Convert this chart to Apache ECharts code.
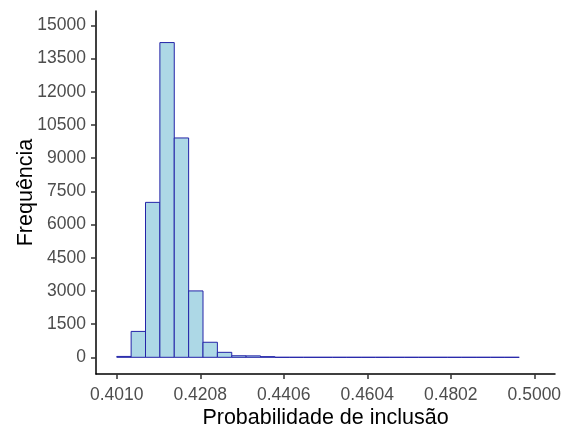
<!DOCTYPE html>
<html>
<head>
<meta charset="utf-8">
<script src="https://cdn.jsdelivr.net/npm/echarts@6/dist/echarts.min.js"></script>
<style>
  html, body { margin: 0; padding: 0; background: #fff; }
  #chart { width: 564px; height: 430px; }
</style>
</head>
<body>
<div id="chart"></div>
<script>
// histograma: largura das classes e contagens
var binStart = 0.4010;
var binWidth = 0.003408;
var counts = [40, 1170, 7000, 14220, 9910, 3000, 680, 225, 70, 65, 30,
              0, 0, 0, 0, 0, 0, 0, 0, 0, 0, 0, 0, 0, 0, 0, 0, 0];
var xTicks = [0.4010, 0.4208, 0.4406, 0.4604, 0.4802, 0.5000];
var yTicks = [0, 1500, 3000, 4500, 6000, 7500, 9000, 10500, 12000, 13500, 15000];

var binData = counts.map(function (c, i) {
    return [binStart + i * binWidth, binStart + (i + 1) * binWidth, c];
});

var labelColor = '#4D4D4D';
var fontFam = '"Liberation Sans", Arial, sans-serif';

var option = {
    animation: false,
    grid: {
        left: 96,
        right: 9,
        top: 11,
        bottom: 56,
        containLabel: false,
        outerBoundsMode: 'none'
    },
    xAxis: {
        type: 'value',
        min: 0.39608,
        max: 0.5049,
        name: 'Probabilidade de inclusão',
        nameLocation: 'middle',
        nameGap: 33,
        nameMoveOverlap: false,
        nameTextStyle: { color: '#000', fontSize: 21.5, fontFamily: fontFam },
        splitLine: { show: false },
        axisLine: { onZero: false, lineStyle: { color: '#000', width: 1.5 } },
        axisTick: {
            customValues: xTicks,
            length: 5,
            lineStyle: { color: '#333', width: 1.5 }
        },
        axisLabel: {
            customValues: xTicks,
            color: labelColor,
            fontSize: 17.5,
            fontFamily: fontFam,
            margin: 12,
            formatter: function (v) { return v.toFixed(4); }
        }
    },
    yAxis: {
        type: 'value',
        min: -754,
        max: 15646,
        name: 'Frequência',
        nameLocation: 'middle',
        nameGap: 59,
        nameMoveOverlap: false,
        nameRotate: 90,
        nameTextStyle: { color: '#000', fontSize: 21.5, fontFamily: fontFam },
        splitLine: { show: false },
        axisLine: { show: true, onZero: false, lineStyle: { color: '#000', width: 1.5 } },
        axisTick: {
            show: true,
            customValues: yTicks,
            length: 5,
            lineStyle: { color: '#333', width: 1.5 }
        },
        axisLabel: {
            customValues: yTicks,
            color: labelColor,
            fontSize: 17.5,
            fontFamily: fontFam,
            margin: 10,
            formatter: function (v) { return String(v); }
        }
    },
    series: [{
        type: 'custom',
        data: binData,
        encode: { x: [0, 1], y: 2 },
        renderItem: function (params, api) {
            var p0 = api.coord([api.value(0), api.value(2)]);
            var p1 = api.coord([api.value(1), 0]);
            return {
                type: 'rect',
                shape: {
                    x: p0[0],
                    y: p0[1],
                    width: p1[0] - p0[0],
                    height: p1[1] - p0[1]
                },
                style: {
                    fill: '#ADD8E6',
                    stroke: '#2424A8',
                    lineWidth: 1
                }
            };
        }
    }]
};

var chart = echarts.init(document.getElementById('chart'));
chart.setOption(option);
</script>
</body>
</html>
